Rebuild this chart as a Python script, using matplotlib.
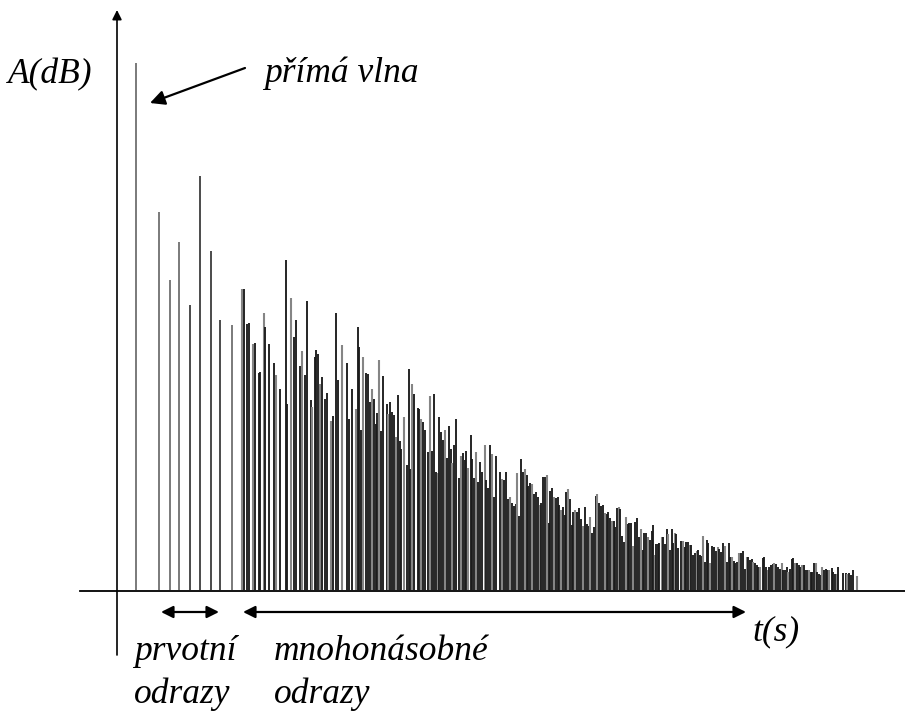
import matplotlib
matplotlib.use("Agg")
from matplotlib import pyplot as plt

# time of each reflection (arbitrary units, 0 = start of the t axis)
# and its level (arbitrary units above the t axis)
px = [136, 159, 170, 179, 190, 200, 211, 220, 232,
      242, 244, 247, 249, 253, 255, 259, 260, 264, 265, 269, 274, 276, 280,
      286, 287, 291, 294, 296, 300, 302, 305, 307, 311, 312, 315, 316, 318,
      320, 322, 325, 327, 331, 333, 336, 338, 342, 347, 349, 352, 356, 358,
      359, 361, 363, 366, 368,
      370, 372, 374, 376, 377, 379, 381, 383, 387, 388, 390, 392, 394, 396,
      398, 400, 401, 404, 407, 409, 410, 412, 414, 418, 419, 421, 423, 425,
      428, 430, 432, 434, 436, 438, 439, 441, 443, 445, 447, 449, 451, 452,
      454, 456, 459, 461, 463, 465, 466, 468, 471, 472, 474, 476, 478, 480,
      482, 485, 486, 488, 490, 492, 494, 496, 500, 502, 504, 506, 508,
      510, 512, 514, 516, 517, 519, 521, 523, 525, 527, 528, 530, 532, 534,
      536, 538, 540, 541, 543, 545, 547, 549, 550, 552, 554, 556, 558, 559,
      561, 563, 565, 566, 568, 570, 572, 573, 575, 577, 579, 581, 583, 585,
      587, 589, 590, 592, 594, 596, 597, 599, 601, 603, 605, 607, 608, 610,
      612, 614, 615, 617, 619, 620, 622, 624, 626, 628, 629, 631, 633, 635,
      637, 639, 641, 643, 644, 646, 648, 650, 652, 653, 655, 656, 658, 659,
      662, 663, 665, 667, 668, 670, 672, 673, 675, 676, 678, 681, 683, 685,
      686, 688, 690, 691, 693, 695, 697, 698, 700, 702, 703, 705, 707, 708,
      710, 712, 714, 716, 718, 719, 721, 723, 725, 727, 729, 730, 732, 734,
      735, 737, 739, 741, 743, 745, 747, 748, 750, 752, 753, 755, 757, 758,
      760, 763, 764, 766, 768, 769, 771, 773, 774, 776, 778, 780, 782, 783,
      785, 787, 788, 790, 792, 793, 795, 797, 799, 800, 802, 804, 805, 807,
      809, 811, 812, 814, 816, 817, 819, 821, 822, 824, 826, 827, 829, 832,
      833, 835, 837, 838, 843, 846, 847, 849, 851, 853, 857]
tops = [63, 212, 280, 242, 305, 176, 251, 320, 325,
        289, 289, 324, 323, 344, 343, 373, 372, 313, 327, 344, 363, 375, 389,
        260, 404, 298, 337, 320, 366, 351, 375, 301, 400, 407, 357, 350, 354,
        384, 377, 399, 393, 421, 416, 313, 380, 345, 363, 419, 389, 409, 327,
        347, 430, 357, 373, 374,
        402, 389, 399, 424, 413, 360, 431, 376, 404, 414, 402, 412, 415, 437,
        395, 441, 449, 417, 465, 369, 469, 384, 394, 408, 409, 419, 422, 430,
        452, 396, 451, 394, 472, 473, 417, 432, 440, 430, 458, 426, 449, 463,
        445, 419, 478, 456, 453, 460, 451, 468, 435, 459, 478, 452, 482, 462,
        472, 445, 480, 488, 445, 454, 497, 456, 472, 479, 480, 472, 499,
        497, 503, 506, 504, 473, 516, 459, 472, 469, 475, 486, 483, 484, 494,
        492, 497, 505, 503, 477, 477, 475, 523, 491, 488, 497, 498, 497, 505,
        510, 507, 515, 492, 489, 499, 525, 512, 510, 512, 508, 519, 526, 507,
        524, 526, 517, 533, 527, 496, 494, 503, 506, 505, 513, 514, 512, 518,
        521, 521, 527, 508, 507, 509, 536, 542, 517, 524, 523, 523, 546, 522,
        518, 537, 529, 550, 533, 533, 537, 540, 531, 525, 555, 544, 544, 543,
        537, 537, 544, 529, 534, 550, 529, 543, 533, 534, 548, 541, 541, 547,
        542, 542, 545, 545, 555, 553, 551, 550, 555, 556, 536, 562, 540, 543,
        563, 546, 547, 551, 547, 549, 552, 543, 546, 562, 543, 557, 557, 561,
        563, 562, 553, 553, 551, 569, 557, 557, 560, 559, 562, 563, 565, 567,
        567, 558, 557, 567, 570, 567, 565, 564, 563, 564, 567, 569, 563, 570,
        570, 567, 572, 569, 559, 558, 563, 563, 565, 567, 565, 565, 570, 570,
        570, 572, 572, 563, 563, 572, 574, 575, 567, 570, 569, 570, 570, 568,
        572, 574, 574, 567, 573, 573, 574, 573, 575, 570, 576]

X0, Y0 = 119, 590          # where the two axes cross
times = [p - X0 for p in px]
levels = [Y0 - t for t in tops]

fig = plt.figure(figsize=(9.05, 7.11), dpi=100)
ax = fig.add_axes([0, 0, 1, 1])
ax.set_xlim(-X0, 905 - X0)
ax.set_ylim(Y0 - 711, Y0)
ax.axis("off")

# impulses: grey and black mixed like the printed figure
for i, (t, a) in enumerate(zip(times, levels)):
    if i < 9:
        c, w = ("#7a7a7a", 1.4) if i in (0, 1, 2, 3, 8) else ("#1a1a1a", 1.1)
    else:
        c, w = ("#858585", 1.5) if i % 4 == 1 else ("#1c1c1c", 1.35)
    ax.vlines(t, 0, a, colors=c, linewidth=w)

# axes
ax.plot([80 - X0, 905 - X0], [-1, -1], color="black", lw=1.3)
ax.annotate("", xy=(-2, Y0 - 10), xytext=(-2, Y0 - 655),
            arrowprops=dict(arrowstyle="-|>", color="black", lw=1.2,
                            mutation_scale=14, shrinkA=0, shrinkB=0))

fnt = dict(family="Liberation Serif", style="italic", size=25.5)

ax.text(8 - X0, Y0 - 75, "A(dB)", va="center", ha="left", **fnt)
ax.text(264 - X0, Y0 - 73, "přímá vlna", va="center", ha="left", **fnt)
ax.annotate("", xy=(150 - X0, Y0 - 103), xytext=(245 - X0, Y0 - 68),
            arrowprops=dict(arrowstyle="-|>", color="black", lw=1.6,
                            mutation_scale=22, shrinkA=0, shrinkB=0))

ax.text(752 - X0, Y0 - 632, "t(s)", va="center", ha="left", **fnt)

ax.annotate("", xy=(161 - X0, Y0 - 612), xytext=(219 - X0, Y0 - 612),
            arrowprops=dict(arrowstyle="<|-|>", color="black", lw=1.6,
                            mutation_scale=18, shrinkA=0, shrinkB=0))
ax.annotate("", xy=(243 - X0, Y0 - 612), xytext=(746 - X0, Y0 - 612),
            arrowprops=dict(arrowstyle="<|-|>", color="black", lw=1.6,
                            mutation_scale=18, shrinkA=0, shrinkB=0))

ax.text(134 - X0, Y0 - 652, "prvotní", va="center", ha="left", **fnt)
ax.text(134 - X0, Y0 - 694, "odrazy", va="center", ha="left", **fnt)
ax.text(274 - X0, Y0 - 652, "mnohonásobné", va="center", ha="left", **fnt)
ax.text(274 - X0, Y0 - 694, "odrazy", va="center", ha="left", **fnt)

fig.savefig("out.png", dpi=100)
